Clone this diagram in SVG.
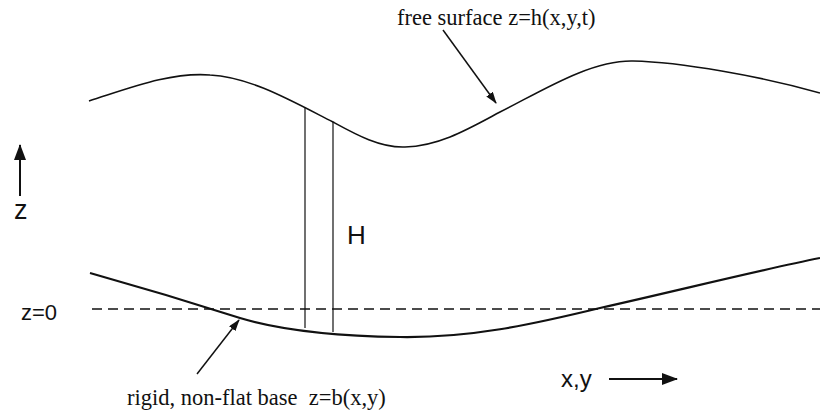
<svg xmlns="http://www.w3.org/2000/svg" width="820" height="414" viewBox="0 0 820 414">
<style>
.serif{font-family:"Liberation Serif","Times New Roman",serif;font-size:22.5px;fill:#111}
.sans{font-family:"Liberation Sans",Arial,sans-serif;fill:#111}
.line{fill:none;stroke:#111}
</style>
<defs>
<marker id="ah" viewBox="0 0 12 8" refX="11" refY="4" markerWidth="12" markerHeight="8" markerUnits="userSpaceOnUse" orient="auto">
<path d="M0,0 L12,4 L0,8 Z" fill="#111"/>
</marker>
<marker id="axis" viewBox="0 0 16 12" refX="15" refY="6" markerWidth="16" markerHeight="12" markerUnits="userSpaceOnUse" orient="auto">
<path d="M0,0 L16,6 L0,12 Z" fill="#111"/>
</marker>
</defs>
<rect width="820" height="414" fill="#fff"/>
<g id="surface">
<path class="line" stroke-width="1.6" d="M89,101 C130,88 170,72 210,75 C250,77 290,100 333,122 C355,134 380,148 405,147 C440,146 470,128 500,112 C540,92 590,60 633,61 C680,62 760,76 820,93"/>
</g>
<g id="base">
<path class="line" stroke-width="2.2" d="M90,273 C140,287 190,302 240,318 C280,330 330,336 400,337 C470,338 530,325 600,308 C680,290 760,270 820,258"/>
</g>
<g id="datum">
<line class="line" x1="92" y1="309" x2="820" y2="309" stroke-width="1.3" stroke-dasharray="10,6"/>
</g>
<g id="column">
<line class="line" x1="305" y1="107" x2="305" y2="328" stroke-width="1.2"/>
<line class="line" x1="333" y1="122" x2="333" y2="332" stroke-width="1.2"/>
<text class="sans" x="347" y="244" font-size="26">H</text>
</g>
<g id="connectors">
<line class="line" x1="443" y1="30" x2="496" y2="103" stroke-width="1.5" marker-end="url(#ah)"/>
<line class="line" x1="197" y1="374" x2="239" y2="320" stroke-width="1.5" marker-end="url(#ah)"/>
<line class="line" x1="20" y1="196" x2="20" y2="145" stroke-width="2" marker-end="url(#axis)"/>
<line class="line" x1="609" y1="379" x2="677" y2="379" stroke-width="2" marker-end="url(#axis)"/>
</g>
<g id="labels">
<text class="serif" x="397" y="25">free surface z=h(x,y,t)</text>
<text class="serif" x="127" y="405" xml:space="preserve">rigid, non-flat base  z=b(x,y)</text>
<text class="sans" x="14" y="219" font-size="27">z</text>
<text class="sans" x="21" y="320" font-size="22">z=0</text>
<text class="sans" x="561" y="387" font-size="24">x,y</text>
</g>
</svg>
